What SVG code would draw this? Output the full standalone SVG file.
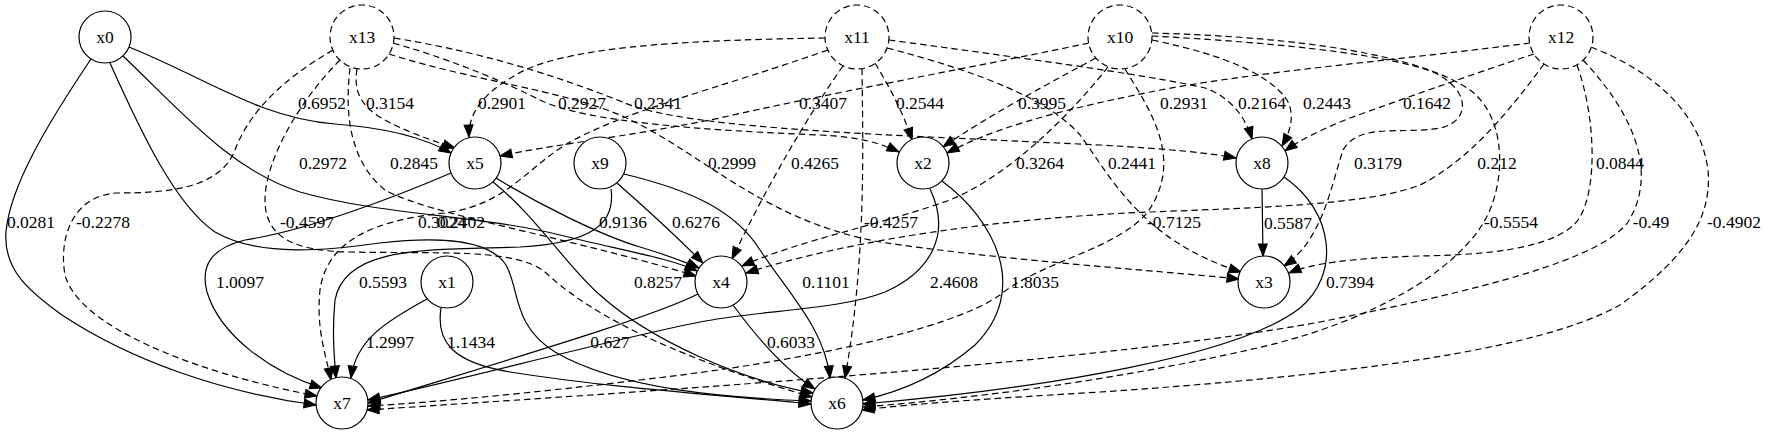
<svg xmlns="http://www.w3.org/2000/svg" width="1770" height="435" viewBox="0 0 1770 435">
<defs>
<style>
text{font-family:"Liberation Serif","Times New Roman",serif;font-size:17.5px;text-anchor:middle;fill:#000}
.nd circle{fill:#fff;stroke:#000;stroke-width:1.2}
.lat circle{stroke-dasharray:6.5,4}
#edges path{fill:none;stroke:#000;stroke-width:1.2;marker-end:url(#arr)}
#edges path.ds{stroke-dasharray:6.5,4}
</style>
<marker id="arr" markerUnits="userSpaceOnUse" markerWidth="14" markerHeight="11" refX="12" refY="4.5" orient="auto" overflow="visible">
<path d="M0,0 L12,4.5 L0,9 z" fill="#000" stroke="#000" stroke-width="1"/>
</marker>
</defs>
<rect width="1770" height="435" fill="#fff"/>
<g id="edges">
<g id="e_x0_x5"><path d="M129,47 C210,80 260,118 335,124 C390,128 425,138 451,153"/><text x="322" y="109">0.6952</text></g>
<g id="e_x0_x4"><path d="M123,56 C180,110 230,170 300,192 C380,215 480,215 560,235 C620,250 670,258 697,271"/><text x="323" y="169">0.2972</text></g>
<g id="e_x0_x7"><path d="M91,59 C50,120 10,185 6,232 C3,270 30,292 62,315 C130,360 220,392 316,405"/><text x="31" y="228">0.0281</text></g>
<g id="e_x0_x6"><path d="M110,63 C140,130 175,205 215,232 C260,258 330,250 380,243 C440,236 490,240 506,265 C520,290 512,325 555,352 C620,390 730,398 811,401"/><text x="442" y="228">0.3024</text></g>
<g id="e_x5_x7"><path d="M451,173 C400,195 310,230 245,240 C212,248 200,265 207,292 C220,335 270,372 322,388"/><text x="240" y="288">1.0097</text></g>
<g id="e_x5_x4"><path d="M496,178 C540,205 600,235 640,247 C670,256 685,262 699,268"/><text x="623" y="228">0.9136</text></g>
<g id="e_x5_x6"><path d="M493,182 C535,215 570,270 600,295 C650,340 740,380 813,393"/><text x="658" y="288">0.8257</text></g>
<g id="e_x9_x4"><path d="M617,183 C650,212 680,240 703,263"/><text x="696" y="228">0.6276</text></g>
<g id="e_x9_x7"><path d="M611,189 C616,225 590,243 520,247 C430,250 345,245 335,300 C332,330 334,355 336,378"/><text x="383" y="288">0.5593</text></g>
<g id="e_x9_x6"><path d="M624,174 C690,190 735,210 760,250 C790,295 825,330 830,378"/><text x="826" y="288">0.1101</text></g>
<g id="e_x2_x7"><path d="M930,189 C952,235 930,272 885,292 C840,310 760,310 700,322 C600,342 470,378 368,400"/><text x="954" y="288">2.4608</text></g>
<g id="e_x2_x6"><path d="M942,181 C995,220 1030,290 975,345 C940,375 900,392 863,400"/><text x="1035" y="288">1.8035</text></g>
<g id="e_x8_x3"><path d="M1262,189 L1263,256"/><text x="1288" y="229">0.5587</text></g>
<g id="e_x8_x6"><path d="M1284,177 C1335,212 1340,275 1300,308 C1240,355 1050,388 863,404"/><text x="1350" y="288">0.7394</text></g>
<g id="e_x1_x7"><path d="M427,299 C385,322 356,340 351,378"/><text x="390" y="348">1.2997</text></g>
<g id="e_x1_x6"><path d="M441,308 C436,340 450,362 510,372 C610,388 720,395 811,404"/><text x="471" y="348">1.1434</text></g>
<g id="e_x4_x7"><path d="M698,294 C650,318 520,356 368,403"/><text x="610" y="348">0.627</text></g>
<g id="e_x4_x6"><path d="M733,305 C755,335 782,368 815,389"/><text x="791" y="348">0.6033</text></g>
<g id="e_x13_x7"><path class="ds" d="M333,50 C285,78 250,110 235,150 C220,188 170,193 117,193 C75,195 58,235 65,275 C78,325 190,372 317,396"/><text x="103" y="228">-0.2278</text></g>
<g id="e_x13_x5"><path class="ds" d="M357,69 C353,92 362,108 385,120 C405,131 430,140 455,148"/><text x="390" y="109">0.3154</text></g>
<g id="e_x13_x4"><path class="ds" d="M350,68 C345,110 348,160 385,190 C430,215 560,235 696,276"/><text x="414" y="169">0.2845</text></g>
<g id="e_x13_x6"><path class="ds" d="M340,60 C300,100 265,160 265,200 C265,238 295,251 350,252 C440,254 515,248 545,272 C580,305 650,350 812,397"/><text x="307" y="228">-0.4597</text></g>
<g id="e_x13_x2"><path class="ds" d="M393,43 C460,62 510,85 540,100 C585,122 700,130 820,135 C860,137 880,143 899,152"/><text x="582" y="109">0.2927</text></g>
<g id="e_x13_x8"><path class="ds" d="M394,38 C500,55 580,85 625,103 C690,130 900,135 1100,145 C1170,149 1210,153 1236,158"/><text x="658" y="109">0.2341</text></g>
<g id="e_x13_x3"><path class="ds" d="M389,54 C470,80 560,90 620,115 C700,150 760,220 880,242 C1000,260 1150,270 1239,279"/><text x="732" y="169">0.2999</text></g>
<g id="e_x11_x5"><path class="ds" d="M825,38 C700,40 580,45 525,70 C485,90 468,112 469,137"/><text x="502" y="109">0.2901</text></g>
<g id="e_x11_x2"><path class="ds" d="M875,63 C890,88 903,112 912,140"/><text x="920" y="109">0.2544</text></g>
<g id="e_x11_x8"><path class="ds" d="M889,40 C1000,55 1150,75 1205,88 C1228,96 1245,115 1252,139"/><text x="1262" y="109">0.2164</text></g>
<g id="e_x11_x4"><path class="ds" d="M843,66 C805,120 765,190 732,259"/><text x="815" y="169">0.4265</text></g>
<g id="e_x11_x6"><path class="ds" d="M862,69 C863,150 866,260 845,378"/><text x="891" y="228">-0.4257</text></g>
<g id="e_x11_x7"><path class="ds" d="M828,50 C720,88 620,112 565,145 C525,170 505,205 445,213 C375,220 327,240 320,290 C316,330 326,355 331,380"/><text x="461" y="228">0.2402</text></g>
<g id="e_x11_x3"><path class="ds" d="M887,48 C980,72 1050,100 1080,135 C1110,175 1140,240 1241,272"/><text x="1132" y="169">0.2441</text></g>
<g id="e_x10_x5"><path class="ds" d="M1089,43 C960,70 820,95 720,118 C620,138 550,145 500,156"/><text x="823" y="109">0.3407</text></g>
<g id="e_x10_x2"><path class="ds" d="M1096,58 C1040,88 985,118 943,147"/><text x="1042" y="109">0.3995</text></g>
<g id="e_x10_x8"><path class="ds" d="M1152,40 C1225,55 1270,75 1287,100 C1295,115 1291,130 1282,146"/><text x="1327" y="109">0.2443</text></g>
<g id="e_x10_x4"><path class="ds" d="M1108,67 C1070,115 1010,175 950,200 C880,225 800,240 742,266"/><text x="1040" y="169">0.3264</text></g>
<g id="e_x10_x7"><path class="ds" d="M1125,69 C1150,110 1185,160 1147,213 C1115,250 1040,262 1000,295 C950,330 800,362 640,380 C540,392 440,402 368,406"/><text x="1174" y="228">-0.7125</text></g>
<g id="e_x10_x3"><path class="ds" d="M1152,36 C1260,42 1380,52 1433,72 C1472,90 1470,122 1440,128 C1400,135 1360,122 1343,150 C1330,190 1322,240 1284,266"/><text x="1378" y="169">0.3179</text></g>
<g id="e_x10_x6"><path class="ds" d="M1152,33 C1300,37 1420,55 1470,90 C1510,120 1505,190 1482,225 C1450,275 1370,320 1270,345 C1130,378 980,398 863,407"/><text x="1511" y="228">-0.5554</text></g>
<g id="e_x12_x2"><path class="ds" d="M1530,43 C1400,60 1250,72 1150,92 C1050,112 990,130 947,153"/><text x="1184" y="109">0.2931</text></g>
<g id="e_x12_x8"><path class="ds" d="M1534,54 C1470,75 1400,100 1350,118 C1320,130 1300,140 1285,151"/><text x="1427" y="109">0.1642</text></g>
<g id="e_x12_x4"><path class="ds" d="M1544,64 C1510,110 1470,160 1420,185 C1370,205 1250,208 1150,212 C1000,218 850,240 746,273"/><text x="1497" y="169">0.212</text></g>
<g id="e_x12_x3"><path class="ds" d="M1577,65 C1595,115 1598,185 1580,217 C1560,250 1480,255 1420,256 C1350,258 1310,264 1289,273"/><text x="1620" y="169">0.0844</text></g>
<g id="e_x12_x7"><path class="ds" d="M1583,60 C1630,110 1660,170 1628,222 C1600,260 1480,290 1320,322 C1100,362 700,388 367,410"/><text x="1651" y="228">-0.49</text></g>
<g id="e_x12_x6"><path class="ds" d="M1591,47 C1650,70 1700,110 1708,170 C1712,215 1690,255 1620,305 C1540,350 1350,375 1100,392 C1000,398 920,403 862,410"/><text x="1734" y="228">-0.4902</text></g>
</g>
<g id="x0" class="nd"><circle cx="105" cy="37" r="26"/><text x="105" y="43">x0</text></g>
<g id="x13" class="nd lat"><circle cx="362" cy="37" r="32"/><text x="362" y="43">x13</text></g>
<g id="x11" class="nd lat"><circle cx="857" cy="37" r="32"/><text x="857" y="43">x11</text></g>
<g id="x10" class="nd lat"><circle cx="1120" cy="37" r="32"/><text x="1120" y="43">x10</text></g>
<g id="x12" class="nd lat"><circle cx="1561" cy="37" r="32"/><text x="1561" y="43">x12</text></g>
<g id="x5" class="nd"><circle cx="475" cy="163" r="26"/><text x="475" y="169">x5</text></g>
<g id="x9" class="nd"><circle cx="600" cy="163" r="26"/><text x="600" y="169">x9</text></g>
<g id="x2" class="nd"><circle cx="923" cy="163" r="26"/><text x="923" y="169">x2</text></g>
<g id="x8" class="nd"><circle cx="1262" cy="163" r="26"/><text x="1262" y="169">x8</text></g>
<g id="x1" class="nd"><circle cx="447" cy="282" r="26"/><text x="447" y="288">x1</text></g>
<g id="x4" class="nd"><circle cx="721" cy="282" r="26"/><text x="721" y="288">x4</text></g>
<g id="x3" class="nd"><circle cx="1264" cy="282" r="26"/><text x="1264" y="288">x3</text></g>
<g id="x7" class="nd"><circle cx="342" cy="403" r="26"/><text x="342" y="409">x7</text></g>
<g id="x6" class="nd"><circle cx="837" cy="403" r="26"/><text x="837" y="409">x6</text></g>
</svg>
